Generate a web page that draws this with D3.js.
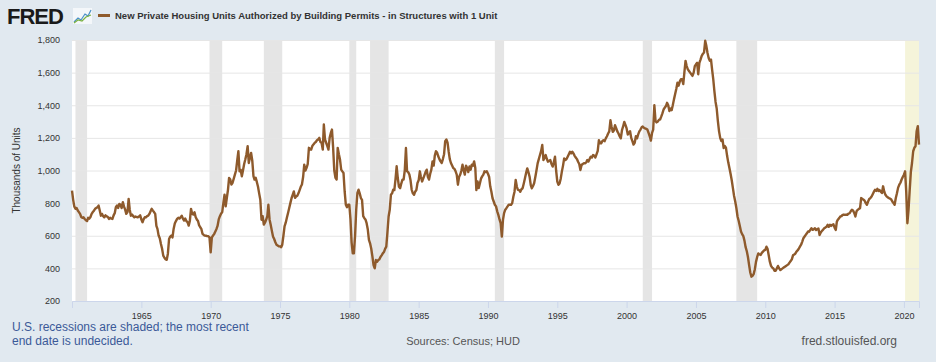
<!DOCTYPE html>
<html>
<head>
<meta charset="utf-8">
<script src="https://cdn.jsdelivr.net/npm/d3@7"></script>
<style>
  html, body { margin: 0; padding: 0; background: #e1e9f0; }
  svg { display: block; font-family: "Liberation Sans", Arial, sans-serif; }
</style>
</head>
<body>
<svg id="chart" width="936" height="362"></svg>
<script>
// monthly values, thousands of units (SAAR), one row per year starting Jan 1960
const startYear = 1960;
const permits = [
  [877, 820, 780, 765, 770, 755, 745, 734, 715, 710, 713, 703], // 1960
  [695, 690, 710, 705, 715, 734, 745, 754, 765, 770, 775, 785],
  [755, 723, 734, 720, 713, 725, 720, 715, 703, 710, 705, 703],
  [725, 740, 775, 785, 770, 795, 790, 770, 806, 780, 760, 734],
  [745, 826, 760, 723, 730, 720, 713, 718, 715, 713, 718, 725],
  [700, 683, 700, 713, 713, 720, 723, 734, 750, 765, 754, 745],
  [734, 660, 642, 601, 585, 550, 520, 478, 465, 455, 453, 490],
  [580, 595, 601, 590, 642, 675, 690, 703, 710, 705, 713, 723],
  [705, 693, 705, 690, 683, 662, 690, 765, 735, 730, 744, 715],
  [700, 690, 665, 652, 642, 611, 605, 601, 600, 598, 597, 590],
  [498, 590, 600, 610, 625, 640, 660, 700, 720, 735, 745, 800], // 1970
  [852, 780, 830, 880, 955, 945, 914, 925, 950, 975, 1000, 1060],
  [1118, 995, 1005, 965, 1000, 1040, 1067, 1100, 1149, 1046, 1080, 1108],
  [1060, 965, 944, 955, 930, 900, 860, 821, 698, 720, 668, 680],
  [698, 720, 790, 700, 668, 630, 596, 580, 560, 545, 540, 535],
  [535, 530, 545, 600, 658, 680, 710, 739, 770, 800, 830, 850],
  [872, 832, 840, 845, 860, 880, 900, 914, 960, 1036, 1000, 1016],
  [1040, 1139, 1130, 1128, 1150, 1160, 1169, 1175, 1185, 1190, 1200, 1175],
  [1169, 1128, 1282, 1190, 1170, 1150, 1128, 1200, 1230, 1251, 1139, 1000],
  [955, 945, 1139, 1100, 1067, 1005, 995, 985, 870, 790, 775, 790],
  [790, 700, 560, 492, 492, 600, 760, 862, 882, 860, 831, 820], // 1980
  [720, 708, 700, 677, 640, 575, 554, 520, 472, 420, 400, 451],
  [440, 451, 455, 470, 480, 492, 500, 520, 533, 620, 718, 759],
  [851, 860, 882, 880, 944, 1026, 954, 900, 892, 920, 944, 944],
  [1000, 1138, 995, 990, 975, 940, 882, 860, 851, 870, 880, 923],
  [940, 995, 960, 933, 950, 970, 990, 1005, 960, 944, 980, 1005],
  [1056, 1030, 1090, 1118, 1110, 1087, 1070, 1056, 1046, 1070, 1100, 1180],
  [1190, 1170, 1118, 1070, 1046, 1030, 1015, 1010, 995, 975, 913, 960],
  [975, 1000, 1036, 1000, 975, 1030, 1015, 990, 1025, 1005, 1036, 1030],
  [1056, 1015, 880, 933, 892, 920, 950, 964, 975, 995, 990, 995],
  [980, 960, 903, 870, 830, 810, 790, 780, 750, 728, 700, 677], // 1990
  [595, 700, 739, 760, 769, 780, 790, 790, 790, 800, 841, 870],
  [942, 900, 881, 880, 870, 885, 891, 920, 952, 985, 1013, 990],
  [962, 910, 891, 905, 922, 960, 1000, 1044, 1070, 1095, 1120, 1156],
  [1064, 1080, 1095, 1070, 1054, 1060, 1064, 1040, 1024, 1050, 1085, 1000],
  [932, 912, 920, 950, 993, 1030, 1074, 1064, 1070, 1085, 1100, 1115],
  [1105, 1115, 1105, 1090, 1080, 1070, 1054, 1040, 1003, 1034, 1040, 1044],
  [1044, 1050, 1064, 1055, 1070, 1085, 1080, 1095, 1090, 1080, 1100, 1120],
  [1186, 1166, 1166, 1180, 1186, 1180, 1197, 1210, 1227, 1240, 1308, 1268],
  [1237, 1245, 1278, 1260, 1240, 1227, 1210, 1197, 1247, 1270, 1298, 1280],
  [1258, 1221, 1230, 1241, 1200, 1180, 1159, 1170, 1210, 1197, 1221, 1240], // 2000
  [1251, 1265, 1270, 1262, 1258, 1255, 1251, 1230, 1210, 1183, 1230, 1251],
  [1400, 1303, 1295, 1300, 1310, 1313, 1330, 1350, 1374, 1385, 1395, 1415],
  [1400, 1364, 1380, 1370, 1400, 1436, 1467, 1500, 1538, 1520, 1545, 1559],
  [1559, 1530, 1600, 1672, 1640, 1620, 1610, 1600, 1590, 1580, 1600, 1640],
  [1651, 1660, 1590, 1660, 1680, 1703, 1715, 1723, 1795, 1764, 1720, 1690],
  [1672, 1680, 1620, 1560, 1487, 1420, 1380, 1303, 1240, 1200, 1180, 1190],
  [1138, 1150, 1140, 1090, 1050, 1015, 980, 940, 892, 845, 810, 770],
  [718, 690, 660, 626, 610, 598, 570, 530, 505, 470, 420, 375],
  [349, 355, 365, 395, 440, 470, 492, 485, 482, 495, 503, 510],
  [513, 533, 520, 480, 441, 415, 405, 400, 385, 385, 400, 415], // 2010
  [400, 390, 395, 400, 405, 410, 415, 420, 425, 435, 445, 455],
  [480, 485, 490, 503, 510, 520, 533, 545, 564, 585, 595, 605],
  [615, 626, 625, 636, 646, 636, 640, 646, 635, 640, 645, 605],
  [620, 630, 636, 646, 650, 655, 667, 655, 667, 660, 667, 670],
  [650, 636, 687, 700, 708, 718, 720, 728, 730, 728, 730, 728],
  [735, 738, 750, 759, 755, 740, 718, 750, 759, 765, 769, 831],
  [826, 821, 815, 800, 790, 810, 825, 831, 840, 855, 870, 882],
  [875, 888, 875, 880, 870, 862, 903, 870, 851, 841, 835, 831],
  [828, 822, 810, 800, 790, 831, 860, 895, 913, 925, 945, 960],
  [974, 995, 872, 677, 759, 880, 990, 1046, 1118, 1139, 1149, 1241], // 2020
  [1272, 1159]
];

// NBER recessions (the last one has no end date yet)
const recessions = [
  ["1960-04-01", "1961-02-01"],
  ["1969-12-01", "1970-11-01"],
  ["1973-11-01", "1975-03-01"],
  ["1980-01-01", "1980-07-01"],
  ["1981-07-01", "1982-11-01"],
  ["1990-07-01", "1991-03-01"],
  ["2001-03-01", "2001-11-01"],
  ["2007-12-01", "2009-06-01"],
  ["2020-02-01", null]
];

const yTicks = [200, 400, 600, 800, 1000, 1200, 1400, 1600, 1800];
const xTickYears = [1965, 1970, 1975, 1980, 1985, 1990, 1995, 2000, 2005, 2010, 2015, 2020];

const title = "New Private Housing Units Authorized by Building Permits - in Structures with 1 Unit";

const data = [];
permits.forEach((row, i) => {
  row.forEach((v, m) => data.push({ date: new Date(startYear + i, m, 1), value: v }));
});

const svg = d3.select("#chart");
const margin = { top: 40, right: 17, bottom: 61, left: 72 };
const width = 936 - margin.left - margin.right;
const height = 362 - margin.top - margin.bottom;

const x = d3.scaleTime()
  .domain(d3.extent(data, d => d.date))
  .range([0, width]);
const y = d3.scaleLinear()
  .domain([200, 1800])
  .range([height, 0]);

const g = svg.append("g").attr("transform", `translate(${margin.left},${margin.top})`);

g.append("rect")
  .attr("width", width)
  .attr("height", height)
  .attr("fill", "#fff");

// recession shading
const lastDate = data[data.length - 1].date;
g.selectAll(".rec")
  .data(recessions)
  .join("rect")
  .attr("x", d => x(new Date(d[0])))
  .attr("width", d => x(d[1] ? new Date(d[1]) : lastDate) - x(new Date(d[0])))
  .attr("y", 0)
  .attr("height", height)
  .attr("fill", d => d[1] ? "#e5e5e5" : "#f5f4da");

// y axis + grid
const yAxis = g.append("g")
  .call(d3.axisLeft(y).tickValues(yTicks).tickSize(-width).tickPadding(12).tickFormat(d3.format(",")));
yAxis.select(".domain").remove();
yAxis.selectAll("line").attr("stroke", "#e6e6e6");
yAxis.selectAll("text").attr("fill", "#333").style("font-size", "9px");

// x axis
const xAxis = g.append("g")
  .attr("transform", `translate(0,${height})`)
  .call(d3.axisBottom(x)
    .tickValues(xTickYears.map(yr => new Date(yr, 0, 1)))
    .tickSize(7)
    .tickPadding(5)
    .tickFormat(d3.timeFormat("%Y")));
xAxis.select(".domain").attr("stroke", "#ccd6eb");
xAxis.selectAll("line").attr("stroke", "#ccd6eb");
xAxis.selectAll("text").attr("fill", "#333").style("font-size", "9px");

// series
const line = d3.line()
  .x(d => x(d.date))
  .y(d => y(d.value));

g.append("path")
  .datum(data)
  .attr("fill", "none")
  .attr("stroke", "#8e5a2c")
  .attr("stroke-width", 2.4)
  .attr("stroke-linejoin", "round")
  .attr("d", line);

// y axis title
svg.append("text")
  .attr("transform", `translate(20,${margin.top + height / 2}) rotate(-90)`)
  .attr("text-anchor", "middle")
  .attr("fill", "#333")
  .style("font-size", "10px")
  .text("Thousands of Units");

// header: logo + legend
svg.append("text")
  .attr("x", 7)
  .attr("y", 24)
  .attr("fill", "#1a1a1a")
  .style("font-size", "22px")
  .style("font-weight", "bold")
  .style("letter-spacing", "-1px")
  .text("FRED");

const icon = svg.append("g").attr("transform", "translate(73,8)");
icon.append("rect").attr("width", 19).attr("height", 16).attr("fill", "#f4f7fa");
icon.append("path")
  .attr("d", "M1,14 L5,10 L8,12 L12,6 L15,8 L18,2")
  .attr("fill", "none").attr("stroke", "#4a90c8").attr("stroke-width", 1.2);
icon.append("path")
  .attr("d", "M1,15 L5,12 L9,13 L13,9 L18,7")
  .attr("fill", "none").attr("stroke", "#7cb342").attr("stroke-width", 1.2);

svg.append("line")
  .attr("x1", 98).attr("x2", 110)
  .attr("y1", 15.5).attr("y2", 15.5)
  .attr("stroke", "#8e5a2c")
  .attr("stroke-width", 3);

svg.append("text")
  .attr("x", 115)
  .attr("y", 19)
  .attr("fill", "#333")
  .style("font-size", "9.5px")
  .style("font-weight", "bold")
  .text(title);

// footer
const note = svg.append("text")
  .attr("x", 12)
  .attr("fill", "#3b5998")
  .style("font-size", "12px");
note.append("tspan").attr("x", 12).attr("y", 331).text("U.S. recessions are shaded; the most recent");
note.append("tspan").attr("x", 12).attr("y", 345).text("end date is undecided.");

svg.append("text")
  .attr("x", 463)
  .attr("y", 345)
  .attr("text-anchor", "middle")
  .attr("fill", "#555")
  .style("font-size", "11px")
  .text("Sources: Census; HUD");

svg.append("text")
  .attr("x", 897)
  .attr("y", 345)
  .attr("text-anchor", "end")
  .attr("fill", "#555")
  .style("font-size", "12px")
  .text("fred.stlouisfed.org");
</script>
</body>
</html>
